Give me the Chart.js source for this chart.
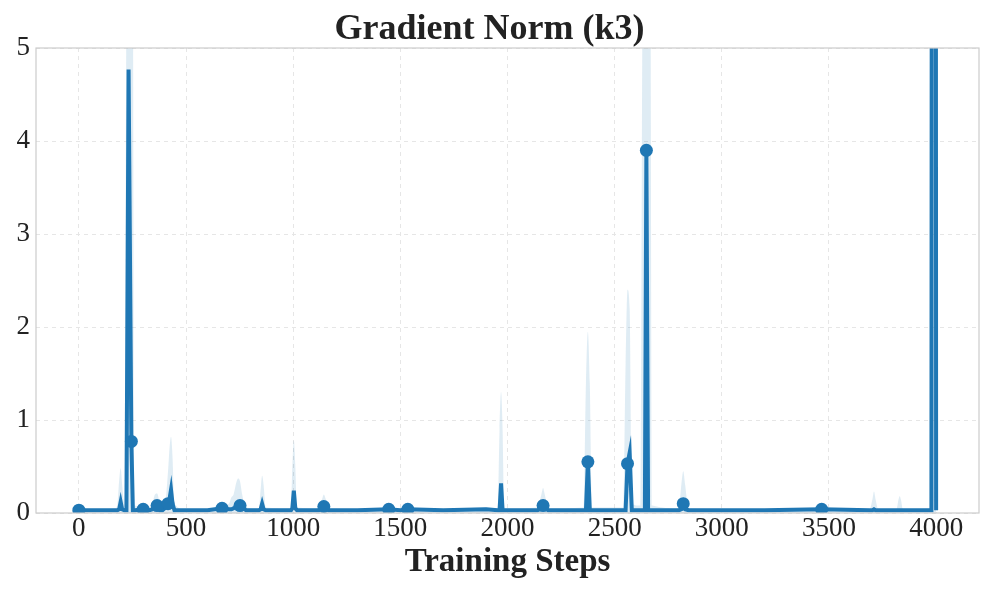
<!DOCTYPE html>
<html>
<head>
<meta charset="utf-8">
<script src="https://cdn.jsdelivr.net/npm/chart.js@4.4.0/dist/chart.umd.min.js"></script>
<style>
  html, body { margin: 0; padding: 0; background: #fff; }
  #wrap { width: 997px; height: 598px; }
</style>
</head>
<body>
<div id="wrap"><canvas id="chart" width="997" height="598"></canvas></div>
<script>
// training steps (sampled where the curve changes)
const steps = [0, 100, 170, 180, 188, 195, 202, 212, 222, 232, 245, 252, 262, 300, 330, 345, 355, 365, 378, 390,
  405, 416, 423, 430, 437, 446, 500, 600, 668, 700, 712, 722, 735, 743, 752, 762, 780, 840, 848, 855, 862,
  872, 990, 996, 1003, 1010, 1018, 1120, 1135, 1143, 1152, 1165, 1300, 1446, 1500, 1535, 1700, 1900,
  1955, 1963, 1970, 1977, 1985, 2000, 2140, 2158, 2166, 2174, 2190, 2355, 2366, 2375, 2384, 2395,
  2540, 2551, 2560, 2570, 2580, 2620, 2630, 2641, 2648, 2656, 2667, 2676, 2800, 2811, 2820, 2829, 2845, 3200, 3466,
  3690, 3703, 3710, 3717, 3730, 3815, 3824, 3830, 3836, 3845, 3978, 3990, 4000];

// mean gradient norm
const gradNorm = [0.03, 0.03, 0.03, 0.03, 0.04, 0.12, 0.04, 0.03, 0.03, 4.77, 0.77, 0.03, 0.03, 0.04, 0.03, 0.04, 0.06, 0.08, 0.03, 0.03,
  0.06, 0.1, 0.15, 0.25, 0.1, 0.03, 0.03, 0.03, 0.05, 0.04, 0.04, 0.05, 0.07, 0.08, 0.08, 0.06, 0.03, 0.03, 0.04, 0.1, 0.04,
  0.03, 0.03, 0.05, 0.24, 0.05, 0.03, 0.03, 0.05, 0.07, 0.05, 0.03, 0.03, 0.04, 0.03, 0.04, 0.03, 0.04,
  0.03, 0.03, 0.32, 0.03, 0.03, 0.03, 0.03, 0.05, 0.08, 0.05, 0.03, 0.03, 0.03, 0.55, 0.03, 0.03,
  0.03, 0.03, 0.53, 0.65, 0.03, 0.03, 0.03, 0.03, 3.9, 0.03, 0.03, 0.03, 0.03, 0.04, 0.1, 0.04, 0.03, 0.03, 0.04,
  0.03, 0.03, 0.04, 0.03, 0.03, 0.03, 0.03, 0.03, 0.03, 0.03, 0.03, 50, 0.03];

// upper edge of the shaded spread
const gradUpper = [0.03, 0.04, 0.05, 0.1, 0.35, 0.48, 0.3, 0.1, 5.5, 7.0, 6.5, 5.5, 0.08, 0.06, 0.05, 0.12, 0.2, 0.21, 0.1, 0.06,
  0.15, 0.45, 0.7, 0.82, 0.6, 0.1, 0.04, 0.04, 0.08, 0.1, 0.17, 0.2, 0.33, 0.37, 0.34, 0.2, 0.06, 0.05, 0.25, 0.4, 0.3,
  0.06, 0.05, 0.5, 0.78, 0.5, 0.06, 0.05, 0.15, 0.2, 0.15, 0.05, 0.04, 0.05, 0.04, 0.05, 0.04, 0.06,
  0.05, 0.9, 1.3, 0.9, 0.06, 0.05, 0.06, 0.2, 0.27, 0.2, 0.05, 0.06, 1.4, 1.95, 1.4, 0.06,
  0.06, 1.6, 2.4, 2.2, 0.1, 0.08, 5.5, 6.5, 7.0, 6.5, 5.5, 0.08, 0.05, 0.3, 0.45, 0.3, 0.05, 0.04, 0.05,
  0.04, 0.15, 0.23, 0.15, 0.04, 0.04, 0.14, 0.18, 0.14, 0.04, 0.05, 60, 0.05];

// steps drawn with a round marker
const markedSteps = [0, 245, 300, 365, 416, 668, 752, 1143, 1446, 1535, 2166, 2375, 2560, 2648, 2820, 3466];

const xTicks = [0, 500, 1000, 1500, 2000, 2500, 3000, 3500, 4000];
const yTicks = [0, 1, 2, 3, 4, 5];

const blue = '#1f77b4';
const serif = "'Liberation Serif', 'DejaVu Serif', serif";

let meanPoints = steps.map((s, i) => ({ x: s, y: gradNorm[i] }));
let upperPoints = steps.map((s, i) => ({ x: s, y: gradUpper[i] }));

// light box around the plot area
const frame = {
  id: 'frame',
  afterDraw(chart) {
    const a = chart.chartArea;
    const ctx = chart.ctx;
    ctx.save();
    ctx.strokeStyle = '#cccccc';
    ctx.lineWidth = 1.2;
    ctx.strokeRect(a.left, a.top, a.right - a.left, a.bottom - a.top);
    ctx.restore();
  }
};

const ctx = document.getElementById('chart');
chart = new Chart(ctx, {
  type: 'line',
  data: {
    datasets: [
      {
        label: 'spread',
        data: upperPoints,
        borderWidth: 0,
        pointRadius: 0,
        fill: 'origin',
        backgroundColor: 'rgba(31,119,180,0.14)',
        cubicInterpolationMode: 'monotone',
        order: 2
      },
      {
        label: 'Gradient Norm',
        data: meanPoints,
        borderColor: blue,
        backgroundColor: blue,
        borderWidth: 4,
        pointRadius: c => markedSteps.includes(steps[c.dataIndex]) ? 6.5 : 0,
        pointBorderWidth: 0,
        fill: false,
        tension: 0,
        order: 1
      }
    ]
  },
  options: {
    responsive: false,
    animation: false,
    layout: { padding: { left: 0, right: 18, top: 0, bottom: 16 } },
    plugins: {
      legend: { display: false },
      tooltip: { enabled: false },
      title: {
        display: true,
        text: 'Gradient Norm (k3)',
        color: '#222',
        font: { family: serif, size: 36, weight: 'bold', lineHeight: 1.0 },
        padding: { top: 12, bottom: 0 }
      }
    },
    scales: {
      x: {
        type: 'linear',
        min: -200,
        max: 4200,
        afterBuildTicks: s => { s.ticks = xTicks.map(v => ({ value: v })); },
        ticks: {
          color: '#222', font: { family: serif, size: 27 }, padding: 0, maxRotation: 0,
          callback: v => String(v)
        },
        grid: { color: '#e6e6e6', tickLength: 0, lineWidth: 1 },
        border: { display: false, dash: [4, 4] },
        title: {
          display: true,
          text: 'Training Steps',
          color: '#222',
          font: { family: serif, size: 33, weight: 'bold', lineHeight: 1.2 },
          padding: { top: 0, bottom: 0 }
        },
        afterFit: s => { s.height = 69; }
      },
      y: {
        min: 0,
        max: 5,
        afterBuildTicks: s => { s.ticks = yTicks.map(v => ({ value: v })); },
        ticks: {
          color: '#222', font: { family: serif, size: 27 }, padding: 6,
          callback: v => String(v)
        },
        grid: { color: '#e6e6e6', tickLength: 0, lineWidth: 1 },
        border: { display: false, dash: [4, 4] },
        afterFit: s => { s.width = 36; }
      }
    }
  },
  plugins: [frame]
});
</script>
</body>
</html>
